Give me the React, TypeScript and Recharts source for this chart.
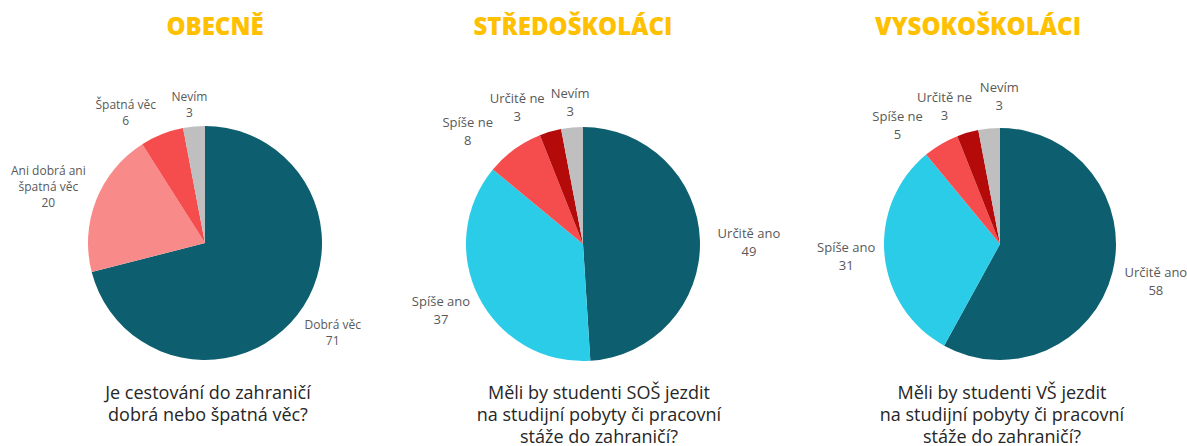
import { PieChart, Pie, Cell } from 'recharts'

// OBECNĚ
const generalLabels = ['Dobrá věc', 'Ani dobrá ani\nšpatná věc', 'Špatná věc', 'Nevím']
const generalValues = [71, 20, 6, 3]

// STŘEDOŠKOLÁCI
const highSchoolLabels = ['Určitě ano', 'Spíše ano', 'Spíše ne', 'Určitě ne', 'Nevím']
const highSchoolValues = [49, 37, 8, 3, 3]

// VYSOKOŠKOLÁCI
const universityLabels = ['Určitě ano', 'Spíše ano', 'Spíše ne', 'Určitě ne', 'Nevím']
const universityValues = [58, 31, 5, 3, 3]

const titles = ['OBECNĚ', 'STŘEDOŠKOLÁCI', 'VYSOKOŠKOLÁCI']
const questions = [
  ['Je cestování do zahraničí', 'dobrá nebo špatná věc?'],
  ['Měli by studenti SOŠ jezdit', 'na studijní pobyty či pracovní', 'stáže do zahraničí?'],
  ['Měli by studenti VŠ jezdit', 'na studijní pobyty či pracovní', 'stáže do zahraničí?'],
]

const GENERAL_COLORS = ['#0D5E6E', '#F88A8A', '#F54D4D', '#BFBFBF']
const STUDENT_COLORS = ['#0D5E6E', '#2BCCE8', '#F54D4D', '#B50A0A', '#BFBFBF']

const FONT = '"Open Sans", "Noto Sans", sans-serif'
const RADIAN = Math.PI / 180

// small manual nudges so the crowded top labels don't collide (like Excel's best fit)
const NUDGE: Record<string, [number, number]>[] = [
  { 'Dobrá věc': [3, 1], 'Ani dobrá ani\nšpatná věc': [2, 0], 'Špatná věc': [-20, 5], 'Nevím': [-2, 6] },
  { 'Určitě ano': [2, 3], 'Spíše ano': [1, 0], 'Spíše ne': [-23, 6], 'Určitě ne': [-21, 5], 'Nevím': [1, 5] },
  { 'Určitě ano': [-2, 1], 'Spíše ano': [5, -1], 'Spíše ne': [-23, 7], 'Určitě ne': [-11, 3], 'Nevím': [13, -2] },
]

const PANELS = [
  { left: 0, width: 396, cx: 205, cy: 243, r: 117, fs: 12, lh: 16, cw: 6.4, colors: GENERAL_COLORS },
  { left: 396, width: 396, cx: 187, cy: 244, r: 117, fs: 13, lh: 18, cw: 7, colors: STUDENT_COLORS },
  { left: 792, width: 395, cx: 208, cy: 244, r: 116, fs: 13, lh: 18, cw: 7, colors: STUDENT_COLORS },
]

const makeLabel = (idx: number) => (props: any) => {
  const p = PANELS[idx]
  const { cx, cy, midAngle, outerRadius, name, value } = props
  const lines = [...String(name).split('\n'), String(value)]
  const w = Math.max(...lines.map((l) => l.length)) * p.cw
  const h = lines.length * p.lh
  const ux = Math.cos(-midAngle * RADIAN)
  const uy = Math.sin(-midAngle * RADIAN)
  const g = outerRadius + 12
  const [nx, ny] = NUDGE[idx][name] ?? [0, 0]
  const x = cx + ux * (g + w / 2) + nx
  const y = cy + uy * (g + h / 2) + ny
  const top = y - h / 2 + p.lh / 2
  return (
    <text x={x} y={top} textAnchor="middle" fill="#595959" fontSize={p.fs} fontFamily={FONT}>
      {lines.map((l, i) => (
        <tspan key={i} x={x} dy={i === 0 ? '0.35em' : p.lh}>{l}</tspan>
      ))}
    </text>
  )
}

export default function App() {
  const datasets = [
    generalLabels.map((name, i) => ({ name, value: generalValues[i] })),
    highSchoolLabels.map((name, i) => ({ name, value: highSchoolValues[i] })),
    universityLabels.map((name, i) => ({ name, value: universityValues[i] })),
  ]
  const titleCenters = [215, 573, 978]
  const questionCenters = [208, 599, 1002]

  return (
    <div style={{ position: 'absolute', left: 0, top: 0, width: 1187, height: 446, background: '#fff', overflow: 'hidden', fontFamily: FONT }}>
      {PANELS.map((p, idx) => (
        <div key={idx} style={{ position: 'absolute', left: p.left, top: 0 }}>
          <PieChart width={p.width} height={446} margin={{ top: 0, right: 0, bottom: 0, left: 0 }}>
            <Pie
              data={datasets[idx]}
              dataKey="value"
              nameKey="name"
              cx={p.cx}
              cy={p.cy}
              outerRadius={p.r}
              startAngle={90}
              endAngle={-270}
              stroke="none"
              labelLine={false}
              label={makeLabel(idx)}
              isAnimationActive={false}
            >
              {datasets[idx].map((d, i) => (
                <Cell key={d.name} fill={p.colors[i]} />
              ))}
            </Pie>
          </PieChart>
        </div>
      ))}
      {titles.map((t, i) => (
        <div
          key={t}
          style={{
            position: 'absolute', left: titleCenters[i] - 150, width: 300, top: 10, textAlign: 'center',
            color: '#FFC000', fontWeight: 800, fontSize: 24, lineHeight: '32px',
          }}
        >
          {t}
        </div>
      ))}
      {questions.map((q, i) => (
        <div
          key={i}
          style={{
            position: 'absolute', left: questionCenters[i] - 170, width: 340, top: 381, textAlign: 'center',
            color: '#262626', fontSize: 18, lineHeight: '22px',
          }}
        >
          {q.map((l) => (
            <div key={l}>{l}</div>
          ))}
        </div>
      ))}
    </div>
  )
}
